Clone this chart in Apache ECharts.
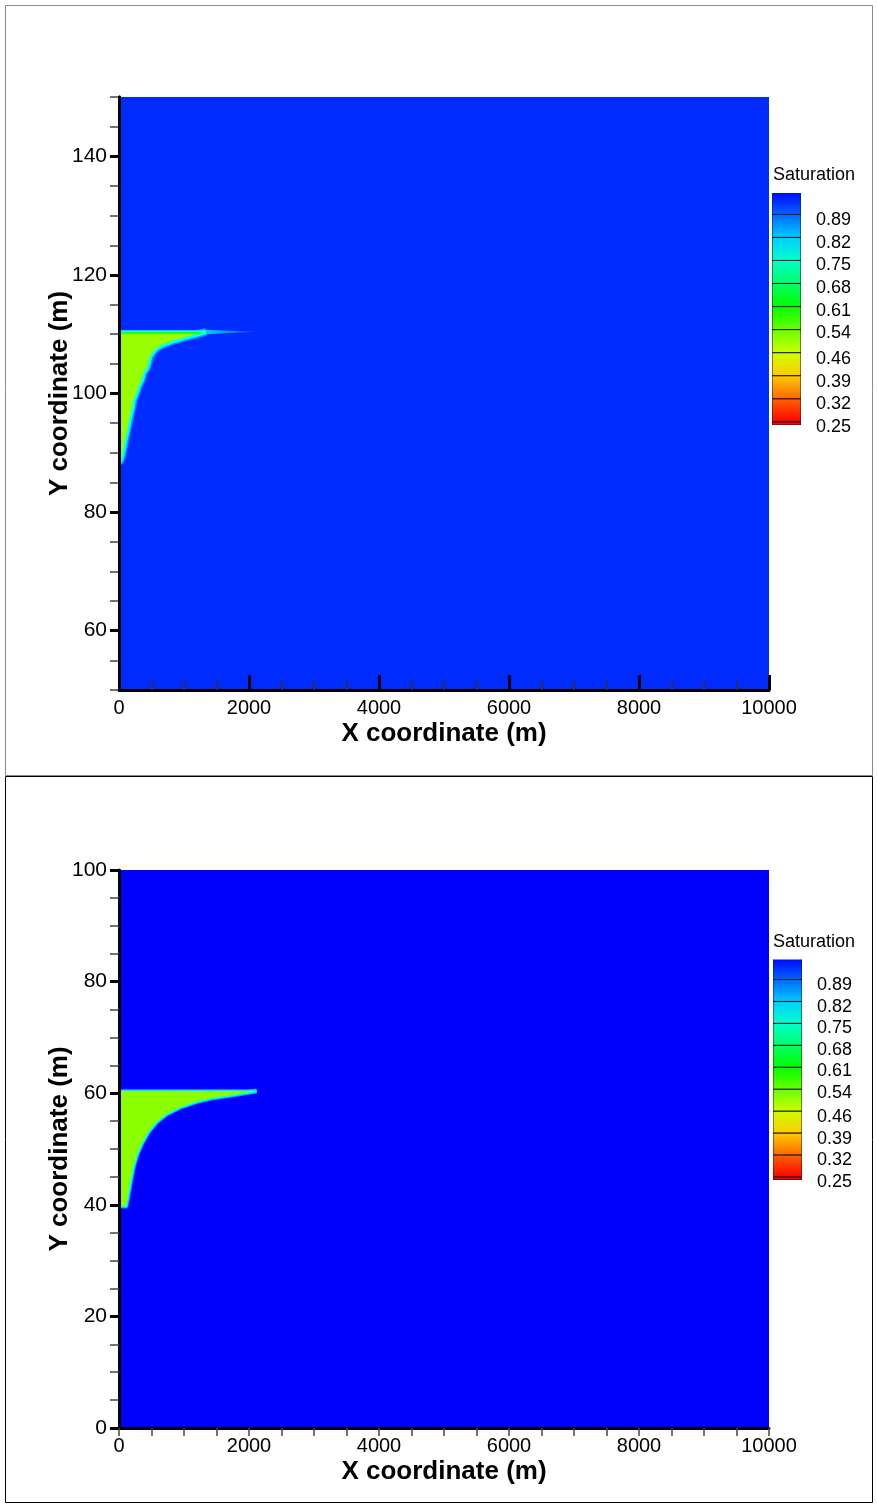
<!DOCTYPE html>
<html>
<head>
<meta charset="utf-8">
<script src="https://cdn.jsdelivr.net/npm/echarts@6/dist/echarts.min.js"></script>
<style>
  html, body { margin: 0; padding: 0; background: #fff; }
  #chart { width: 877px; height: 1507px; }
</style>
</head>
<body>
<div id="chart"></div>
<script>
// Model extents (m)
const xDomain = [0, 10000];
const upperYDomain = [50, 150];
const lowerYDomain = [0, 100];
const upperYMajorTicks = [60, 80, 100, 120, 140];

// Saturation contour levels and legend labels
const satLevels = [0.25, 0.3214, 0.3929, 0.4643, 0.5357, 0.6071, 0.6786, 0.75, 0.8214, 0.8929, 0.9643];
const satLabels = [0.25, 0.32, 0.39, 0.46, 0.54, 0.61, 0.68, 0.75, 0.82, 0.89];
const legendFloor = 0.24;

// Upper model: saturation of the host, the plume and its transition zone
const upperBackgroundSat = 0.934;
const upperPlumeSat = 0.50;
const upperFringeSat = [0.86, 0.78];
const upperTopEdgeSat = [0.78, 0.62];
const upperPlumeTop = 110.4;
const upperFrontX = [1340, 988, 808, 682, 580, 528, 477, 451, 426, 374, 348, 297, 262, 220, 205, 180, 158, 128, 92, 66, 42, 15, 0];
const upperFrontY = [110.4, 109.4, 108.8, 108.3, 107.7, 107.1, 106.3, 105.2, 104.3, 103.5, 102.3, 101.2, 100.0, 98.9, 97.8, 96.7, 95.6, 93.9, 92.2, 90.6, 89.4, 88.6, 88.6];
const upperTailX = [1340, 1700, 2100, 1700, 1340];
const upperTailY = [110.75, 110.6, 110.42, 110.22, 110.0];
const upperTailSat = [0.82, 0.90];

// Lower model
const lowerBackgroundSat = 0.975;
const lowerPlumeSat = 0.51;
const lowerFringeSat = [0.86, 0.77];
const lowerTopEdgeSat = [0.80];
const lowerPlumeTop = 60.4;
const lowerFrontX = [2118, 1758, 1451, 1195, 938, 734, 580, 451, 349, 272, 220, 180, 143, 108, 0];
const lowerFrontY = [60.4, 59.7, 59.2, 58.5, 57.5, 56.3, 54.9, 53.1, 51.0, 48.9, 46.8, 44.4, 42.0, 39.8, 39.8];

const FONT = '"Liberation Sans", Arial, sans-serif';

// Rainbow colour map: red at the lowest level, blue at the highest
function satColor(s) {
  const lo = satLevels[0], hi = satLevels[satLevels.length - 1];
  const t = Math.min(1, Math.max(0, (s - lo) / (hi - lo)));
  const h = t * 240;
  const x = 1 - Math.abs((h / 60) % 2 - 1);
  let r, g, b;
  if (h < 60) { r = 1; g = x; b = 0; }
  else if (h < 120) { r = x; g = 1; b = 0; }
  else if (h < 180) { r = 0; g = 1; b = x; }
  else { r = 0; g = x; b = 1; }
  const hex = v => Math.round(v * 255).toString(16).padStart(2, '0');
  return '#' + hex(r) + hex(g) + hex(b);
}

function fieldRenderer(f) {
  return function (params, api) {
    const pt = (x, y) => api.coord([x, y]);
    const children = [];
    // host rock
    children.push({
      type: 'polygon',
      shape: { points: [pt(xDomain[0], f.yDomain[0]), pt(xDomain[1], f.yDomain[0]), pt(xDomain[1], f.yDomain[1]), pt(xDomain[0], f.yDomain[1])] },
      style: { fill: satColor(f.background) }
    });
    // thin tail ahead of the plume tip
    if (f.tailX) {
      children.push({
        type: 'polygon',
        shape: { points: f.tailX.map((x, i) => pt(x, f.tailY[i])) },
        style: {
          fill: new echarts.graphic.LinearGradient(0, 0, 1, 0, [
            { offset: 0, color: satColor(f.tailSat[0]) },
            { offset: 1, color: satColor(f.tailSat[1]) }
          ])
        }
      });
    }
    const frontPts = f.frontX.map((x, i) => pt(x, f.frontY[i]));
    // transition zone along the front
    children.push({
      type: 'polyline', shape: { points: frontPts },
      style: { fill: null, stroke: satColor(f.fringe[0]), lineWidth: f.fringeWidth[0], lineJoin: 'round', lineCap: 'butt' }
    });
    children.push({
      type: 'polyline', shape: { points: frontPts },
      style: { fill: null, stroke: satColor(f.fringe[1]), lineWidth: f.fringeWidth[1], lineJoin: 'round', lineCap: 'butt' }
    });
    // upper seal contact
    const topA = pt(0, f.plumeTop), topB = pt(f.frontX[0], f.plumeTop);
    children.push({
      type: 'polyline', shape: { points: [topA, topB] },
      style: { fill: null, stroke: satColor(f.topEdge[0]), lineWidth: 3 }
    });
    // plume body
    children.push({
      type: 'polygon',
      shape: { points: [pt(0, f.plumeTop)].concat(frontPts) },
      style: { fill: satColor(f.plume) }
    });
    if (f.topEdge.length > 1) {
      children.push({
        type: 'polyline',
        shape: { points: [[topA[0], topA[1] + 1.2], [topB[0] - 6, topB[1] + 1.2]] },
        style: { fill: null, stroke: satColor(f.topEdge[1]), lineWidth: 1.4 }
      });
    }
    return { type: 'group', children: children };
  };
}

function legendRenderer(params, api) {
  const lo = api.value(0), hi = api.value(1);
  const p1 = api.coord([0, hi]);
  const p2 = api.coord([1, lo]);
  return {
    type: 'rect',
    shape: { x: p1[0], y: p1[1], width: p2[0] - p1[0], height: p2[1] - p1[1] },
    style: {
      fill: new echarts.graphic.LinearGradient(0, 0, 0, 1, [
        { offset: 0, color: satColor(hi) },
        { offset: 1, color: satColor(lo) }
      ]),
      stroke: '#1a1a1a',
      lineWidth: 1
    }
  };
}

const legendBands = [[legendFloor, satLevels[0]]];
for (let i = 0; i < satLevels.length - 1; i++) legendBands.push([satLevels[i], satLevels[i + 1]]);

function xAxisFor(gridIndex, inside) {
  return {
    type: 'value', gridIndex: gridIndex, min: xDomain[0], max: xDomain[1], interval: 2000, z: 5,
    name: 'X coordinate (m)', nameLocation: 'middle', nameGap: 31,
    nameTextStyle: { fontFamily: FONT, fontSize: 26, fontWeight: 'bold', color: '#000' },
    axisLine: { lineStyle: { color: '#000', width: 3 } },
    axisTick: inside
      ? { inside: true, length: 15, lineStyle: { color: '#000', width: 3 } }
      : { inside: false, length: 8, lineStyle: { color: '#444', width: 1.5 } },
    minorTick: inside
      ? { show: true, splitNumber: 4, length: 9, lineStyle: { color: '#333', width: 1.8 } }
      : { show: true, splitNumber: 4, length: 8, lineStyle: { color: '#444', width: 1.5 } },
    axisLabel: { fontFamily: FONT, fontSize: 20, color: '#000', margin: 8, formatter: v => String(v) },
    splitLine: { show: false }, minorSplitLine: { show: false }
  };
}

const yName = {
  name: 'Y coordinate (m)', nameLocation: 'middle', nameGap: 46, nameMoveOverlap: false,
  nameTextStyle: { fontFamily: FONT, fontSize: 26, fontWeight: 'bold', color: '#000' }
};

const legendLabel = {
  customValues: satLabels, formatter: v => v.toFixed(2),
  fontFamily: FONT, fontSize: 18, color: '#000', margin: 15,
  verticalAlign: 'top', lineHeight: 10
};

const option = {
  animation: false,
  backgroundColor: '#fff',
  graphic: [
    { type: 'rect', shape: { x: 5.5, y: 5.5, width: 867, height: 770 }, style: { fill: 'none', stroke: '#8a8a8a', lineWidth: 1 }, z: 0 },
    { type: 'rect', shape: { x: 5.5, y: 776.5, width: 867, height: 726 }, style: { fill: 'none', stroke: '#000', lineWidth: 1 }, z: 0 },
    { type: 'text', left: 773, top: 166, style: { text: 'Saturation', font: '18px ' + FONT, fill: '#000' } },
    { type: 'text', left: 773, top: 933, style: { text: 'Saturation', font: '18px ' + FONT, fill: '#000' } }
  ],
  grid: [
    { left: 119, top: 97, width: 650, height: 593 },
    { left: 772, top: 193, width: 29, height: 232 },
    { left: 119, top: 870, width: 650, height: 558 },
    { left: 773, top: 959.5, width: 29, height: 220.4 }
  ],
  xAxis: [
    xAxisFor(0, true),
    { type: 'value', gridIndex: 1, min: 0, max: 1, show: false },
    xAxisFor(2, false),
    { type: 'value', gridIndex: 3, min: 0, max: 1, show: false }
  ],
  yAxis: [
    // upper model: minor ticks every 5 m
    {
      type: 'value', gridIndex: 0, position: 'left', min: upperYDomain[0], max: upperYDomain[1], interval: 5, z: 5,
      axisLine: { lineStyle: { color: '#000', width: 3 } },
      axisTick: { length: 9, lineStyle: { color: '#444', width: 1.5 } },
      axisLabel: { show: false }, splitLine: { show: false }
    },
    // upper model: labelled ticks
    Object.assign({
      type: 'value', gridIndex: 0, position: 'left', min: upperYDomain[0], max: upperYDomain[1], z: 6,
      axisLine: { lineStyle: { color: '#000', width: 3 } },
      axisTick: { length: 9, customValues: upperYMajorTicks, lineStyle: { color: '#000', width: 3 } },
      axisLabel: { customValues: upperYMajorTicks, fontFamily: FONT, fontSize: 21, color: '#000', margin: 12 },
      splitLine: { show: false }
    }, yName),
    {
      type: 'value', gridIndex: 1, position: 'right', min: legendFloor, max: 0.959,
      axisLine: { show: false }, axisTick: { show: false }, splitLine: { show: false },
      axisLabel: legendLabel
    },
    Object.assign({
      type: 'value', gridIndex: 2, position: 'left', min: lowerYDomain[0], max: lowerYDomain[1], interval: 20, z: 5,
      axisLine: { lineStyle: { color: '#000', width: 3 } },
      axisTick: { length: 9, lineStyle: { color: '#000', width: 3 } },
      minorTick: { show: true, splitNumber: 4, length: 9, lineStyle: { color: '#444', width: 1.5 } },
      axisLabel: { fontFamily: FONT, fontSize: 21, color: '#000', margin: 12 },
      splitLine: { show: false }, minorSplitLine: { show: false }
    }, yName),
    {
      type: 'value', gridIndex: 3, position: 'right', min: legendFloor, max: 0.958,
      axisLine: { show: false }, axisTick: { show: false }, splitLine: { show: false },
      axisLabel: legendLabel
    }
  ],
  series: [
    {
      type: 'custom', xAxisIndex: 0, yAxisIndex: 0, clip: true, silent: true, z: 1,
      data: [[0]],
      renderItem: fieldRenderer({
        yDomain: upperYDomain, background: upperBackgroundSat, plume: upperPlumeSat,
        fringe: upperFringeSat, fringeWidth: [8, 5], topEdge: upperTopEdgeSat, plumeTop: upperPlumeTop,
        frontX: upperFrontX, frontY: upperFrontY,
        tailX: upperTailX, tailY: upperTailY, tailSat: upperTailSat
      })
    },
    {
      type: 'custom', xAxisIndex: 1, yAxisIndex: 2, clip: true, silent: true,
      data: legendBands, renderItem: legendRenderer
    },
    {
      type: 'custom', xAxisIndex: 2, yAxisIndex: 3, clip: true, silent: true, z: 1,
      data: [[0]],
      renderItem: fieldRenderer({
        yDomain: lowerYDomain, background: lowerBackgroundSat, plume: lowerPlumeSat,
        fringe: lowerFringeSat, fringeWidth: [5, 3], topEdge: lowerTopEdgeSat, plumeTop: lowerPlumeTop,
        frontX: lowerFrontX, frontY: lowerFrontY
      })
    },
    {
      type: 'custom', xAxisIndex: 3, yAxisIndex: 4, clip: true, silent: true,
      data: legendBands, renderItem: legendRenderer
    }
  ]
};

const chart = echarts.init(document.getElementById('chart'), null, { renderer: 'canvas' });
chart.setOption(option);
</script>
</body>
</html>
